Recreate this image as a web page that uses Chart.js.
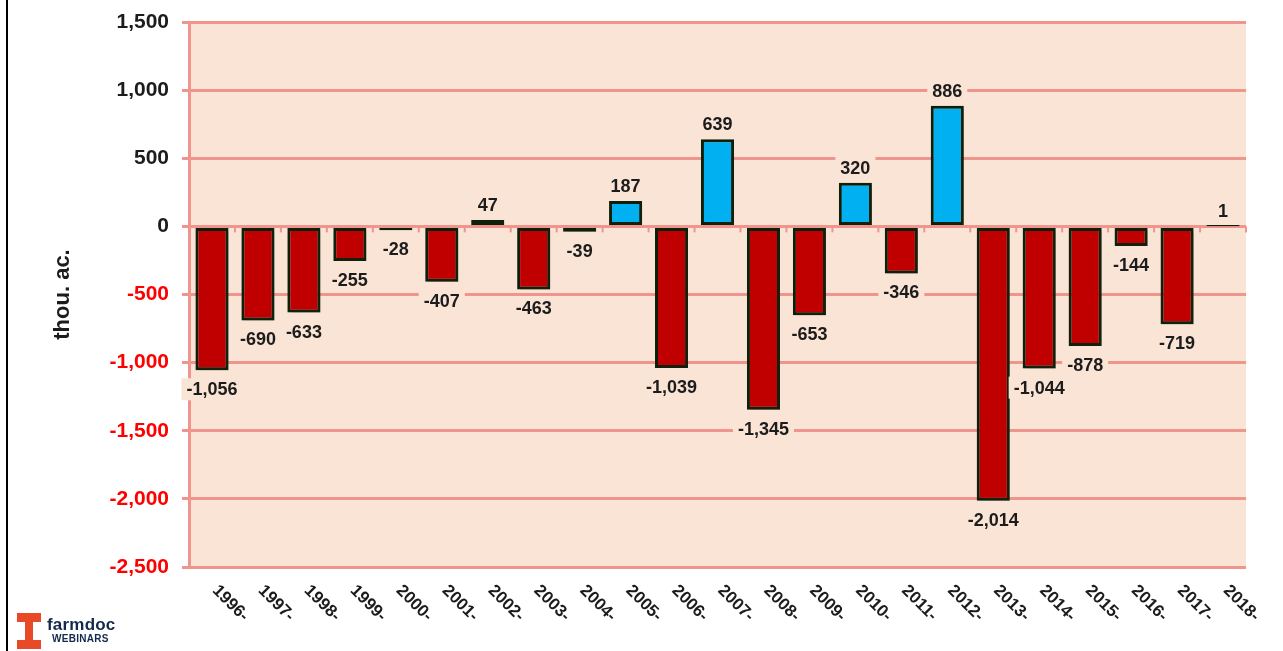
<!DOCTYPE html>
<html>
<head>
<meta charset="utf-8">
<script src="https://cdn.jsdelivr.net/npm/chart.js@4.4.1/dist/chart.umd.min.js"></script>
<style>
  html, body { margin: 0; padding: 0; background: #fff; }
  #wrap { position: relative; width: 1283px; height: 651px; }
  #edge { position: absolute; left: 6px; top: 0; width: 2px; height: 651px; background: #000; }
  #logo { position: absolute; left: 17px; top: 613px; }
  #logo .brand { position: absolute; left: 30px; top: 2px; font: bold 17px "Liberation Sans", Arial, sans-serif; color: #13294B; letter-spacing: 0.2px; }
  #logo .sub { position: absolute; left: 35px; top: 20px; font: bold 10px "Liberation Sans", Arial, sans-serif; color: #13294B; letter-spacing: 0.3px; }
</style>
</head>
<body>
<div id="wrap">
  <canvas id="chart" width="1283" height="651"></canvas>
  <div id="edge"></div>
  <div id="logo">
    <svg width="24" height="36" viewBox="0 0 24 36">
      <polygon fill="#E84A27" points="0,0 24,0 24,9 16,9 16,27 24,27 24,36 0,36 0,27 8,27 8,9 0,9"/>
    </svg>
    <div class="brand">farmdoc</div>
    <div class="sub">WEBINARS</div>
  </div>
</div>
<script>
// ================= DATA =================
const years = ["1996-", "1997-", "1998-", "1999-", "2000-", "2001-", "2002-", "2003-", "2004-", "2005-",
               "2006-", "2007-", "2008-", "2009-", "2010-", "2011-", "2012-", "2013-", "2014-", "2015-",
               "2016-", "2017-", "2018-"];
const changes = [-1056, -690, -633, -255, -28, -407, 47, -463, -39, 187,
                 -1039, 639, -1345, -653, 320, -346, 886, -2014, -1044, -878,
                 -144, -719, 1];
const yTicks = [1500, 1000, 500, 0, -500, -1000, -1500, -2000, -2500];

// ================= STYLE =================
const plotBg = "#FAE4D5";
const gridColor = "#EF958D";
const FONT = "'Liberation Sans', Arial, sans-serif";
const fmt = v => v.toLocaleString("en-US");

// ================= PLUGINS =================
const backdrop = {
    id: "backdrop",
    beforeDraw(chart) {
        const { ctx, chartArea: a } = chart;
        ctx.save();
        ctx.fillStyle = plotBg;
        ctx.fillRect(a.left, a.top, a.right - a.left, a.bottom - a.top);
        ctx.restore();
    }
};

const shadow = {
    id: "shadow",
    beforeDatasetsDraw(chart) {
        const ctx = chart.ctx;
        ctx.save();
        ctx.shadowColor = "rgba(40,40,20,0.35)";
        ctx.shadowOffsetX = 3;
        ctx.shadowOffsetY = 3;
        ctx.shadowBlur = 4;
    },
    afterDatasetsDraw(chart) {
        chart.ctx.restore();
    }
};

const labels = {
    id: "labels",
    afterDatasetsDraw(chart) {
        const { ctx } = chart;
        const xs = chart.scales.x;
        const ys = chart.scales.y;
        const zero = ys.getPixelForValue(0);

        // small category ticks along the zero line
        ctx.save();
        ctx.strokeStyle = gridColor;
        ctx.lineWidth = 2;
        for (let i = 0; i <= years.length; i++) {
            const x = i === 0 ? chart.chartArea.left
                : i === years.length ? chart.chartArea.right
                : (xs.getPixelForValue(i - 1) + xs.getPixelForValue(i)) / 2;
            ctx.beginPath();
            ctx.moveTo(x, zero);
            ctx.lineTo(x, zero + 6);
            ctx.stroke();
        }
        ctx.restore();

        // value labels
        const meta = chart.getDatasetMeta(0);
        ctx.save();
        ctx.font = "bold 18px " + FONT;
        ctx.textAlign = "center";
        ctx.textBaseline = "middle";
        meta.data.forEach((bar, i) => {
            const v = changes[i];
            const txt = fmt(v);
            const y = v < 0 ? bar.y + 19 : bar.y - 15;
            const w = ctx.measureText(txt).width + 10;
            ctx.fillStyle = plotBg;
            ctx.fillRect(bar.x - w / 2, y - 11, w, 22);
            ctx.fillStyle = "#1C1C1C";
            ctx.fillText(txt, bar.x, y + 1);
        });
        ctx.restore();
    },
    afterDraw(chart) {
        // rotated category labels (clockwise, like the spreadsheet original)
        const { ctx, chartArea: a } = chart;
        const xs = chart.scales.x;
        ctx.save();
        ctx.font = "bold 17px " + FONT;
        ctx.fillStyle = "#1C1C1C";
        ctx.textAlign = "left";
        ctx.textBaseline = "middle";
        years.forEach((t, i) => {
            const x = xs.getPixelForValue(i);
            ctx.save();
            ctx.translate(x + 3, a.bottom + 21);
            ctx.rotate(Math.PI / 4);
            ctx.fillText(t, 0, 0);
            ctx.restore();
        });
        ctx.restore();
    }
};

// ================= CHART =================
const chart = new Chart(document.getElementById("chart"), {
    type: "bar",
    data: {
        labels: years,
        datasets: [{
            data: changes,
            backgroundColor: changes.map(v => v < 0 ? "#C00000" : "#00B0F0"),
            borderColor: "#0C200B",
            borderWidth: 3,
            borderSkipped: false,
            barPercentage: 0.72,
            categoryPercentage: 1
        }]
    },
    options: {
        responsive: false,
        animation: false,
        layout: { padding: { top: 22, right: 37, bottom: 84, left: 0 } },
        plugins: { legend: { display: false }, tooltip: { enabled: false } },
        scales: {
            x: { display: false },
            y: {
                min: -2500,
                max: 1500,
                afterBuildTicks: s => { s.ticks = yTicks.map(v => ({ value: v })); },
                afterFit: s => { s.width = 189; s.paddingTop = 0; s.paddingBottom = 0; },
                grid: { color: gridColor, lineWidth: 3, tickLength: 7 },
                border: { color: gridColor, width: 3 },
                ticks: {
                    padding: 13,
                    font: { family: FONT, size: 21, weight: "bold" },
                    color: c => c.tick.value < 0 ? "#FF0000" : "#1C1C1C",
                    callback: v => fmt(v)
                },
                title: {
                    display: true,
                    text: "thou. ac.",
                    color: "#1C1C1C",
                    font: { family: FONT, size: 22, weight: "bold" },
                    padding: { top: 50, bottom: 0 }
                }
            }
        }
    },
    plugins: [backdrop, shadow, labels]
});
</script>
</body>
</html>
